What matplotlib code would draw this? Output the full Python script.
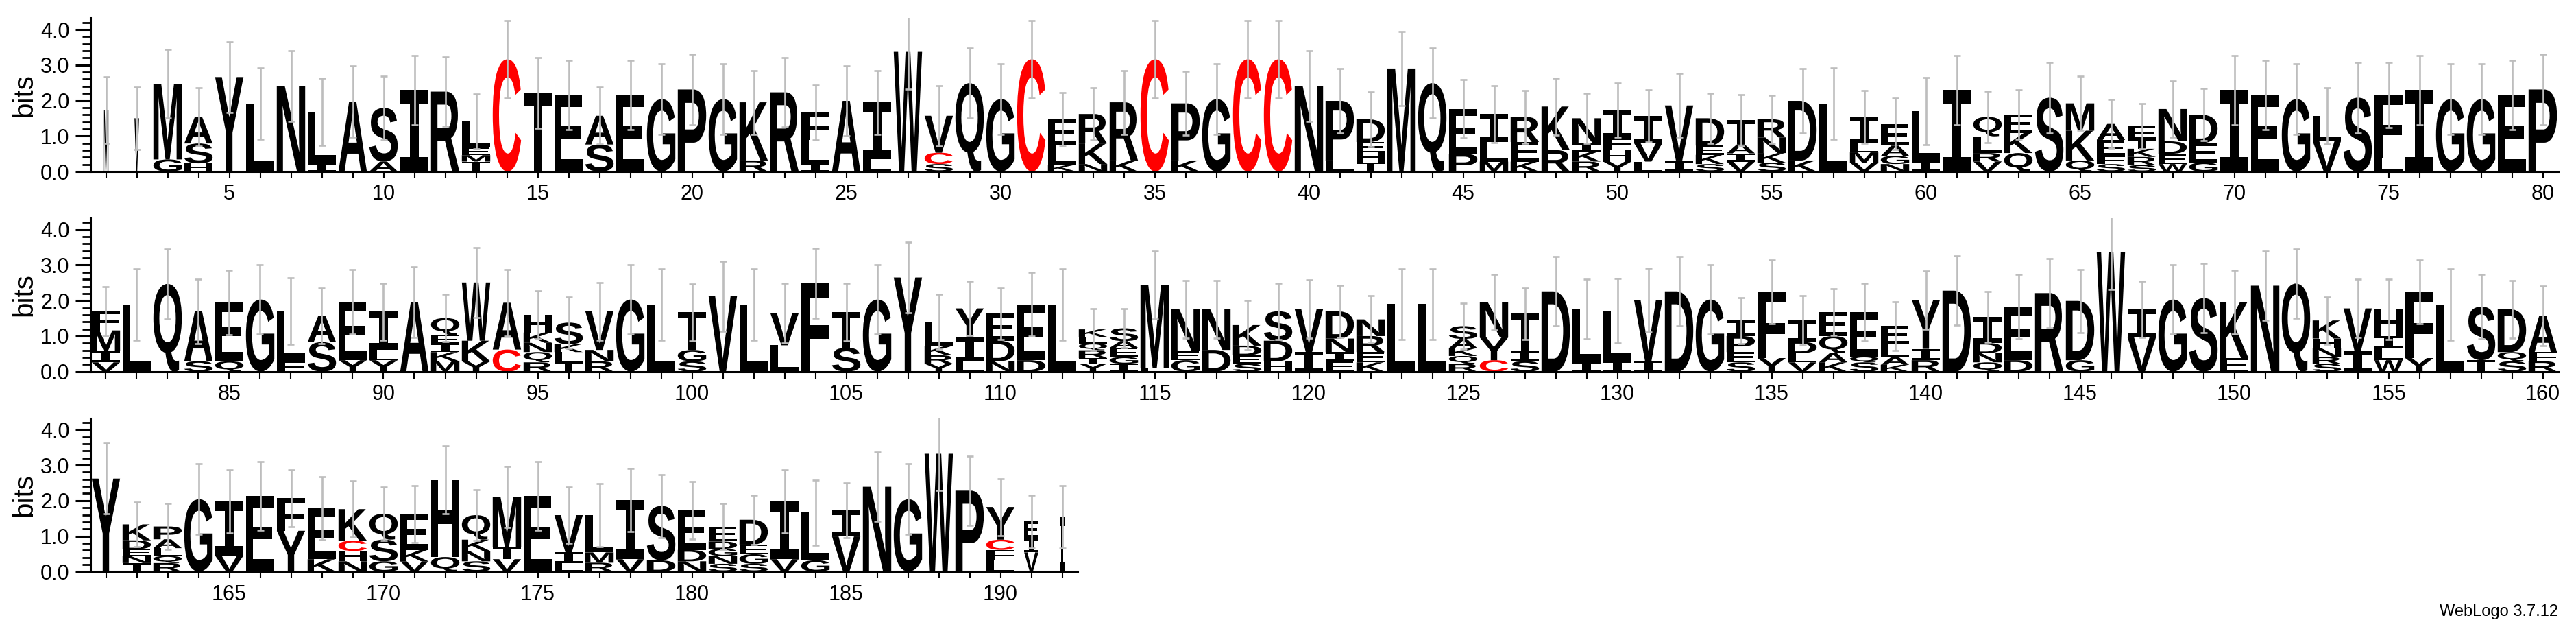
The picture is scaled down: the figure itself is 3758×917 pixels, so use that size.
import matplotlib
matplotlib.use("Agg")
import matplotlib.pyplot as plt
import numpy as np
from matplotlib.textpath import TextPath
from matplotlib.font_manager import FontProperties
from matplotlib.patches import PathPatch
from matplotlib.path import Path
from matplotlib.ticker import MultipleLocator

# sequence logo data: for every position the letters bottom -> top and their heights in bits
letters_1 = ["M", "V", "GM", "HSA", "Y", "L", "N", "IL", "A", "AS",
             "I", "R", "TMEL", "C", "T", "E", "SA", "E", "G", "P",
             "G", "RK", "R", "ILF", "A", "LI", "W", "SCV", "Q", "G",
             "C", "KLE", "NKR", "KR", "C", "KP", "G", "C", "C", "N",
             "LP", "THED", "M", "Q", "PE", "MLI", "KER", "RK", "RKIN", "YHFI",
             "LVI", "IV", "SKED", "VIAT", "SKNR", "KD", "L", "VMLI", "NGAE", "IL",
             "I", "VRLQ", "QKE", "S", "QKM", "SFEA", "SRKTE", "WEDN", "GED", "I",
             "E", "G", "VL", "S", "LF", "I", "G", "G", "E", "P"]
bits_1 = [[1.73], [1.50], [.34, 2.13], [.23, .56, .75], [2.66], [1.91], [2.41], [.23, 1.45], [1.97], [.28, 1.51],
          [2.29], [2.25], [.28, .18, .22, .73], [3.16], [2.21], [2.16], [.76, .81], [2.16], [2.04], [2.31],
          [2.04], [.31, 1.64], [2.23], [.23, .66, .77], [1.99], [.34, 1.61], [3.37], [.21, .32, 1.04], [2.49], [2.04],
          [3.16], [.19, .57, .71], [.21, .58, .83], [.31, 1.64], [3.16], [.31, 1.61], [2.04], [3.16], [3.16], [2.41],
          [.31, 1.68], [.25, .29, .29, .64], [2.90], [2.49], [.50, 1.26], [.28, .55, .79], [.28, .55, .71], [.60, 1.23],
          [.28, .29, .23, .70], [.28, .32, .35, .78],
          [.28, .52, .77], [.31, 1.55], [.21, .26, .26, .77], [.28, .23, .26, .67], [.25, .27, .44, .51], [.31, 1.68],
          [1.91], [.25, .29, .26, .74], [.21, .23, .29, .61], [.29, 1.41],
          [2.29], [.28, .24, .47, .55], [.52, .57, .51], [2.08], [.31, .84, .77], [.21, .23, .45, .45],
          [.18, .23, .23, .26, .38], [.21, .29, .35, .91], [.25, .55, .80], [2.29],
          [2.16], [2.04], [.86, .71], [2.08], [.37, 1.79], [2.29], [2.04], [2.04], [2.16], [2.31]]
err_1 = [.94, .88, .97, .82, 1.0, 1.0, .99, .94, 1.0, .90,
         .98, .98, .78, 1.09, .99, .98, .80, .98, .99, .99,
         .99, .90, .98, .77, .99, .90, 1.05, .85, .98, .99,
         1.09, .75, .74, .90, 1.09, .90, .99, 1.09, 1.09, .99,
         .90, .77, 1.04, .98, .82, .80, .74, .80, .71, .76,
         .73, .90, .71, .72, .67, .90, 1.0, .74, .72, .94,
         .98, .73, .69, .99, .77, .69, .64, .79, .73, .98,
         .98, .99, .79, .99, .92, .98, .99, .99, .98, .99]

letters_2 = ["VIMF", "L", "Q", "SA", "QE", "G", "FL", "SA", "YE", "YLI",
             "A", "MKIEQ", "YKW", "CA", "RQNKH", "TLKS", "RNV", "G", "L", "SGT",
             "V", "L", "LV", "F", "ST", "G", "Y", "YRKL", "LIY", "NDE",
             "DE", "L", "YTRQLK", "IGEAS", "LM", "GEN", "DN", "SEDK", "HDS", "IV",
             "EIND", "KERN", "L", "L", "RQKAS", "CYN", "SIT", "D", "IL", "IL",
             "IV", "D", "G", "SEPI", "YF", "VLDI", "KAQE", "SQE", "KALE", "RIY",
             "D", "QNDI", "DE", "R", "GD", "W", "VI", "G", "S", "EK",
             "N", "Q", "SRNHK", "IV", "WLIH", "YF", "L", "TS", "SQD", "RFA"]
bits_2 = [[.26, .32, .58, .54], [1.89], [2.47], [.29, 1.41], [.29, 1.65], [2.03], [.29, 1.41], [.83, .74], [.32, 1.64],
          [.32, .29, 1.08],
          [1.96], [.29, .26, .24, .24, .48], [.29, .58, 1.64], [.62, 1.32], [.26, .29, .26, .29, .50], [.26, .29, .22, .61],
          [.29, .32, 1.09], [2.03], [1.89], [.29, .32, 1.06],
          [2.12], [1.89], [.74, .91], [2.49], [.67, 1.00], [2.03], [2.65], [.22, .24, .26, .68], [.29, .67, .82],
          [.29, .58, .76],
          [.32, 1.57], [1.89], [.22, .16, .22, .19, .19, .21], [.22, .19, .26, .19, .36], [.10, 2.34], [.32, .26, 1.18],
          [.61, 1.15], [.22, .24, .27, .58], [.29, .58, .83], [.55, 1.21],
          [.29, .26, .38, .77], [.26, .29, .45, .47], [1.90], [1.90], [.22, .22, .22, .26, .36], [.32, .64, 1.00],
          [.29, .29, 1.05], [2.26], [.26, 1.50], [.29, 1.43],
          [.29, 1.73], [2.26], [2.03], [.26, .29, .45, .44], [.38, 1.86], [.26, .26, .32, .60], [.26, .26, .48, .67],
          [.26, .16, 1.25], [.19, .22, .38, .49], [.32, .32, 1.38],
          [2.28], [.26, .26, .29, .73], [.32, 1.51], [2.21], [.32, 1.67], [3.37], [.96, .80], [2.03], [2.07], [.38, 1.58],
          [2.42], [2.48], [.22, .19, .26, .26, .51], [.58, 1.20], [.32, .35, .32, .77], [.38, 1.86], [1.89], [.32, 1.51],
          [.29, .26, 1.21], [.29, .26, 1.02]]
err_2 = [.70, 1.0, .98, .91, .91, .98, .94, .79, .91, .80,
         .99, .66, .98, .94, .67, .72, .81, .98, 1.0, .80,
         .98, 1.0, .84, .99, .81, .98, 1.0, .77, .77, .72,
         .90, 1.0, .59, .55, .96, .81, .81, .70, .79, .82,
         .73, .66, 1.0, 1.0, .65, .78, .72, .98, .84, .91,
         .90, .98, .98, .65, .90, .70, .66, .81, .68, .82,
         .98, .71, .90, .98, .89, 1.06, .79, .98, .98, .90,
         .98, .98, .67, .82, .85, .90, 1.0, .91, .81, .84]

letters_3 = ["Y", "TNEDK", "RQLAP", "G", "VI", "E", "YF", "KE", "NHCK", "GSQ",
             "VKE", "QH", "SNKQ", "VTM", "E", "LIV", "RML", "VI", "DS", "NDE",
             "SNGDE", "SGED", "VI", "GL", "VI", "N", "G", "W", "P", "LFCY",
             "VIE", "I"]
bits_3 = [[2.62], [.24, .20, .19, .25, .45], [.24, .20, .22, .25, .36], [2.04], [.45, 1.52], [2.13], [1.15, .92],
          [.35, 1.43], [.29, .29, .29, .89], [.29, .61, .73],
          [.29, .32, 1.01], [.41, 2.17], [.29, .29, .32, .69], [.35, .35, 1.40], [2.13], [.24, .30, 1.05],
          [.25, .29, 1.05], [.35, 1.66], [.32, 1.53], [.29, .32, 1.11],
          [.22, .22, .20, .21, .42], [.22, .27, .27, .70], [.35, 1.62], [.32, 1.34], [.99, .73], [2.39], [2.04],
          [3.32], [2.28], [.32, .29, .29, .92],
          [.54, .41, .46], [1.54]]
err_3 = [.99, .63, .64, .99, .89, .97, .80, .89, .79, .75,
         .80, .96, .71, .86, .97, .80, .88, .89, .89, .81,
         .64, .70, .89, .92, .77, .97, .99, 1.04, .97, .80,
         .74, .88]

# fraction of sequences that cover a position (narrower stacks)
coverage = {1: 0.18, 2: 0.16, 191: 0.5, 192: 0.15}

W_PX, H_PX = 3758, 917
POS_PX = 45.0
BIT_PX = 51.75
YMAX = 4.32

sans_bold = FontProperties(family="Liberation Sans", weight="bold")
mono_bold = FontProperties(family="DejaVu Sans Mono", weight="bold")
glyph_cache = {}


def glyph(ch):
    if ch not in glyph_cache:
        tp = TextPath((0, 0), ch, size=1, prop=mono_bold if ch == "I" else sans_bold)
        ext = tp.get_extents()
        v = (tp.vertices - [ext.x0, ext.y0]) / [ext.width, ext.height]
        glyph_cache[ch] = (v, tp.codes)
    return glyph_cache[ch]


def draw_letter(ax, ch, x, y0, w, h):
    v, codes = glyph(ch)
    verts = np.column_stack([x - w / 2 + v[:, 0] * w, y0 + v[:, 1] * h])
    color = "red" if ch == "C" else "black"
    ax.add_patch(PathPatch(Path(verts, codes), fc=color, ec="none", lw=0, zorder=2))


fig = plt.figure(figsize=(W_PX / 100, H_PX / 100), dpi=100)

rows = [(letters_1, bits_1, err_1, 1, 250.0),
        (letters_2, bits_2, err_2, 81, 541.7),
        (letters_3, bits_3, err_3, 161, 833.3)]

for letters, bits, errs, start, base in rows:
    n = len(letters)
    ax_h = YMAX * BIT_PX
    ax = fig.add_axes([132 / W_PX, (H_PX - base) / H_PX, n * POS_PX / W_PX, ax_h / H_PX])
    positions = np.arange(start, start + n)
    tops = []
    for p, stack, hs in zip(positions, letters, bits):
        w = 0.92 * coverage.get(p, 1.0)
        y = 0.0
        for ch, h in zip(stack, hs):
            draw_letter(ax, ch, p, y, w, h)
            y += h
        tops.append(y)
    ax.errorbar(positions, tops, yerr=errs, fmt="none", ecolor="#bdbdbd",
                elinewidth=1.9, capsize=3.3, capthick=1.9, zorder=5)

    ax.set_xlim(start - 0.5, start + n - 0.5)
    ax.set_ylim(0, YMAX)
    for s in ["top", "right"]:
        ax.spines[s].set_visible(False)
    ax.spines["left"].set_linewidth(2.2)
    ax.spines["bottom"].set_linewidth(2.2)

    ax.set_xticks(positions, labels=[str(p) if p % 5 == 0 else "" for p in positions])
    ax.tick_params(axis="x", direction="out", length=7.2, width=1.5, pad=6,
                   labelsize=22)
    ax.yaxis.set_major_locator(MultipleLocator(1.0))
    ax.yaxis.set_minor_locator(MultipleLocator(0.2))
    ax.set_yticks([0, 1, 2, 3, 4], labels=["0.0", "1.0", "2.0", "3.0", "4.0"])
    ax.tick_params(axis="y", which="major", length=16, width=2.2, pad=6, labelsize=22)
    ax.tick_params(axis="y", which="minor", length=8.6, width=2.0)
    for lab in ax.get_xticklabels() + ax.get_yticklabels():
        lab.set_fontfamily("Liberation Sans")

    center = base - ax_h / 2
    fig.text(35 / W_PX, (H_PX - center) / H_PX, "bits", rotation=90, ha="center", va="center",
             fontsize=29, family="Liberation Sans")

fig.text(3732 / W_PX, (H_PX - 892) / H_PX, "WebLogo 3.7.12", ha="right", va="center",
         fontsize=17, family="Liberation Sans")

fig.savefig("out.png", dpi=100)
